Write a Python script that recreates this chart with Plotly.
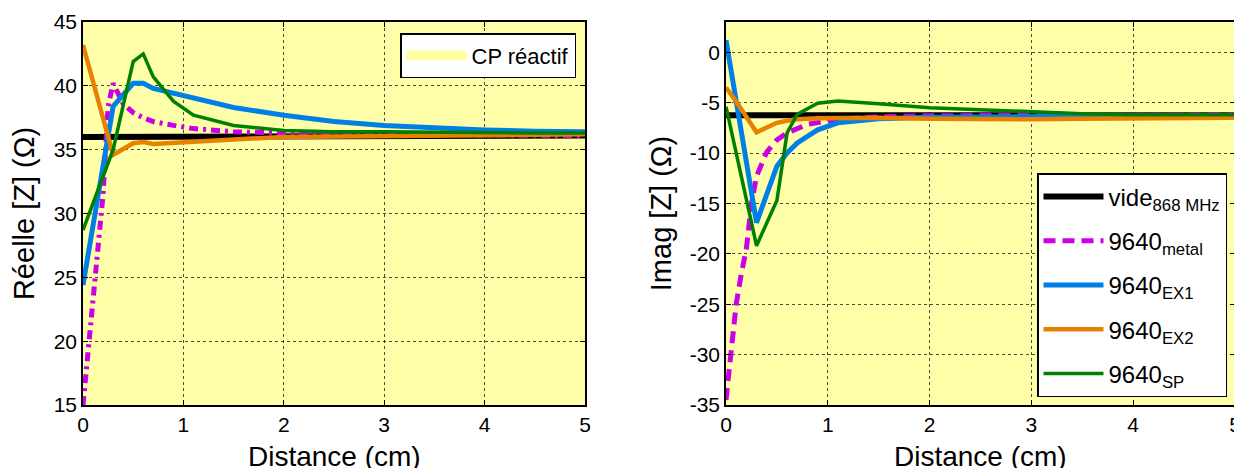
import plotly.graph_objects as go

# ---------------- data ----------------
x_vide = [0, 5]
re_vide = [36.0, 36.1]
im_vide = [-6.25, -6.25]

x_metal = [0, 0.05, 0.1, 0.15, 0.2, 0.25, 0.3, 0.4, 0.5, 0.6, 0.7, 0.9, 1.1, 1.5, 2, 3, 4, 5]
re_metal = [15.0, 19.0, 23.0, 27.0, 31.5, 38.4, 40.2, 38.6, 37.9, 37.5, 37.2, 36.9, 36.65, 36.4, 36.3, 36.2, 36.15, 36.1]
x_metal_im = [0, 0.05, 0.1, 0.15, 0.2, 0.25, 0.3, 0.4, 0.5, 0.6, 0.8, 1.1, 1.5, 2, 3, 4, 5]
im_metal = [-34.5, -29.5, -25.0, -22.0, -19.5, -15.0, -12.3, -9.9, -8.7, -8.0, -7.15, -6.65, -6.4, -6.3, -6.25, -6.2, -6.2]

x_s = [0, 0.1, 0.3, 0.5, 0.6, 0.7, 0.9, 1.1, 1.5, 2, 2.5, 3, 3.5, 4, 4.5, 5]
re_ex1 = [24.4, 29.0, 38.4, 40.2, 40.2, 39.8, 39.4, 39.0, 38.3, 37.7, 37.2, 36.9, 36.7, 36.55, 36.45, 36.4]
im_ex1 = [1.2, -5.0, -16.9, -11.3, -10.0, -9.0, -7.7, -7.0, -6.6, -6.45, -6.4, -6.35, -6.3, -6.3, -6.3, -6.3]
re_ex2 = [43.2, 40.3, 34.6, 35.5, 35.6, 35.45, 35.55, 35.65, 35.8, 36.0, 36.05, 36.1, 36.12, 36.15, 36.17, 36.2]
im_ex2 = [-3.5, -4.9, -7.95, -7.0, -6.8, -6.65, -6.55, -6.5, -6.5, -6.6, -6.65, -6.65, -6.6, -6.55, -6.5, -6.5]
re_sp = [28.7, 30.8, 35.0, 41.9, 42.5, 40.7, 38.8, 37.7, 36.9, 36.5, 36.4, 36.4, 36.35, 36.3, 36.3, 36.3]
im_sp = [-5.4, -10.0, -19.2, -14.7, -8.0, -6.15, -5.05, -4.85, -5.1, -5.5, -5.7, -5.95, -6.1, -6.2, -6.2, -6.2]

x_ticks = [0, 1, 2, 3, 4, 5]
re_ticks = [15, 20, 25, 30, 35, 40, 45]
im_ticks = [-35, -30, -25, -20, -15, -10, -5, 0]
im_ticktext = ["-35", "-30", "-25", "-20", "-15", "-10", "-5", "0"]

names = ["vide<sub>868 MHz</sub>", "9640<sub>metal</sub>", "9640<sub>EX1</sub>",
         "9640<sub>EX2</sub>", "9640<sub>SP</sub>"]
x_title = "Distance (cm)"

# ---------------- style ----------------
BG = "rgb(255,255,170)"
C_BLACK = "black"
C_MAG = "rgb(204,0,230)"
C_BLUE = "rgb(0,128,230)"
C_ORANGE = "rgb(230,130,0)"
C_GREEN = "rgb(0,128,0)"
FONT = "Liberation Sans, Arial, sans-serif"

fig = go.Figure()

# CP réactif legend entry (left plot)
fig.add_trace(go.Scatter(x=[None], y=[None], mode="lines", name="CP réactif",
                         line=dict(color="rgb(255,255,160)", width=20),
                         xaxis="x", yaxis="y", legend="legend"))

left = [
    (x_vide, re_vide, C_BLACK, 6, "solid"),
    (x_metal, re_metal, C_MAG, 5, "9px,5px,3px,5px"),
    (x_s, re_ex1, C_BLUE, 5, "solid"),
    (x_s, re_ex2, C_ORANGE, 4.5, "solid"),
    (x_s, re_sp, C_GREEN, 3.5, "solid"),
]
for xs, ys, c, w, d in left:
    fig.add_trace(go.Scatter(x=xs, y=ys, mode="lines", line=dict(color=c, width=w, dash=d),
                             xaxis="x", yaxis="y", showlegend=False))

right = [
    (x_vide, im_vide, C_BLACK, 6, "solid"),
    (x_metal_im, im_metal, C_MAG, 5, "12px,7px"),
    (x_s, im_ex1, C_BLUE, 5, "solid"),
    (x_s, im_ex2, C_ORANGE, 4.5, "solid"),
    (x_s, im_sp, C_GREEN, 3.5, "solid"),
]
for i, (xs, ys, c, w, d) in enumerate(right):
    fig.add_trace(go.Scatter(x=xs, y=ys, mode="lines", name=names[i],
                             line=dict(color=c, width=w, dash=d),
                             xaxis="x2", yaxis="y2", legend="legend2",
                             legendgroup="g%d" % i))

axis_common = dict(
    showline=True, linecolor="black", linewidth=1.5, mirror="ticks",
    ticks="inside", ticklen=5, tickcolor="black",
    showgrid=True, gridcolor="rgba(0,0,0,0.7)", griddash="dot", gridwidth=1,
    zeroline=False, tickfont=dict(size=21, color="black", family=FONT),
)

# page body has an 8px margin -> shift everything by 8px
OFF = 8
FW, FH = 1242 - OFF, 468 - OFF
L, R, T, B = 83, 1235, 22, 405
W0, W1 = L, R


def dom(a, b):
    return [(a - W0) / (W1 - W0), (b - W0) / (W1 - W0)]


XS, YS = 28, 29
d1 = dom(83, 585)
d2 = dom(726, 1235)
fig.update_layout(
    width=FW, height=FH, autosize=False,
    margin=dict(l=L - OFF, r=FW - (R - OFF), t=T - OFF, b=FH - (B - OFF), autoexpand=False),
    paper_bgcolor="white",
    plot_bgcolor=BG,
    font=dict(family=FONT, color="black"),
    xaxis=dict(domain=d1, range=[0, 5], tickvals=x_ticks, **axis_common),
    yaxis=dict(domain=[0, 1], range=[15, 45], tickvals=re_ticks, anchor="x",
               title=dict(text="Réelle [Z] (Ω)", font=dict(size=YS), standoff=12), **axis_common),
    xaxis2=dict(domain=d2, range=[0, 5], tickvals=x_ticks, anchor="y2", **axis_common),
    yaxis2=dict(domain=[0, 1], range=[-35, 3], tickvals=im_ticks, ticktext=im_ticktext, anchor="x2",
                title=dict(text="Imag [Z] (Ω)", font=dict(size=YS), standoff=10), **axis_common),
    legend=dict(x=(576 - W0) / (W1 - W0), y=1 - (33 - T) / (B - T), xanchor="right", yanchor="top",
                bgcolor="white", bordercolor="black", borderwidth=1.5,
                font=dict(size=22), itemwidth=60),
    legend2=dict(x=(1227 - W0) / (W1 - W0), y=(B - 397) / (B - T), xanchor="right", yanchor="bottom",
                 bgcolor="white", bordercolor="black", borderwidth=1.5,
                 font=dict(size=24), itemwidth=60, tracegroupgap=10),
)

# x-axis titles, placed as in the reference (bottom edge of the page)
title_y = -(456 - B) / (B - T)
for d in (d1, d2):
    fig.add_annotation(text=x_title, xref="paper", yref="paper", x=(d[0] + d[1]) / 2, y=title_y,
                       xanchor="center", yanchor="middle", showarrow=False,
                       font=dict(size=XS, family=FONT, color="black"))

fig.write_html("out.html")
